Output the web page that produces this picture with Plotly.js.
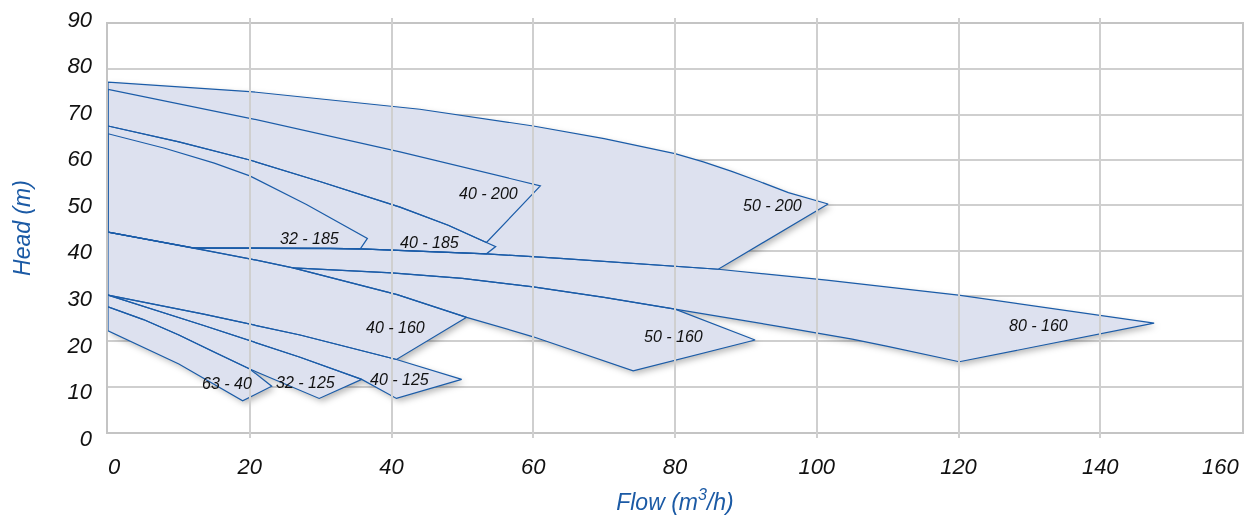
<!DOCTYPE html>
<html><head><meta charset="utf-8">
<script src="https://cdn.plot.ly/plotly-3.0.1.min.js"></script>
<style>html,body{margin:0;padding:0;background:#fff}#chart{width:1248px;height:516px}</style>
</head><body><div id="chart"></div>
<script>
// ---- data (flow m3/h, head m) : each pump's operating field outline ----
const models = ['50 - 200','40 - 200','40 - 185','32 - 185','80 - 160','50 - 160','40 - 160','40 - 125','32 - 125','63 - 40'];

const flow_50_200 = [0,20,44,60,70,76,80,84,88,92,96,101.6,86.1,63.8,53.4,35.6,31.3,12,0,0];
const head_50_200 = [77.2,75.1,71.2,67.5,64.7,62.8,61.4,59.6,57.5,55.2,52.8,50.3,35.9,38.3,39.3,40.4,40.5,40.6,44.1,77.2];

const flow_40_200 = [0,20,41.2,61.0,53.4,48,41.2,30,20,10,0,0];
const head_40_200 = [75.6,69.2,61.8,54.3,41.8,45.6,49.6,55.2,60,64.0,67.5,75.6];

const flow_40_185 = [0,10,20,30,41.2,48,53.4,54.7,53.4,35.6,31.3,12,0,0];
const head_40_185 = [67.5,64.0,60,55.2,49.6,45.6,41.8,40.9,39.3,40.4,40.5,40.6,44.1,67.5];

const flow_32_185 = [0,8,15,20,28,36.6,35.6,31.3,12,0,0];
const head_32_185 = [65.8,62.6,59.3,56.5,50.2,42.7,40.4,40.5,40.6,44.1,65.8];

const flow_80_160 = [12,31.3,35.6,53.4,63.8,86.1,101.4,120,147.6,120.1,115,110,105,100,95,90,80,70,60,50,40,34.1,26.1,20,12];
const head_80_160 = [40.6,40.5,40.4,39.3,38.3,35.9,33.5,30.2,24.0,15.5,17.3,18.9,20.5,21.9,23.2,24.5,27.1,29.7,32.0,33.9,35.1,35.6,36.2,38.2,40.6];

const flow_50_160 = [26.1,34.1,40,50,60,70,80,91.3,74.1,60,50.6,40.8,26.1];
const head_50_160 = [36.2,35.6,35.1,33.9,32.0,29.7,27.1,20.3,13.5,21.0,25.3,30.3,36.2];

const flow_40_160 = [0,12,20,26.1,40.8,50.6,40.7,27.1,13.5,0,0];
const head_40_160 = [44.1,40.6,38.2,36.2,30.3,25.3,16.0,21.4,26.0,30.2,44.1];

const flow_40_125 = [0,13.5,27.1,40.7,49.9,40.7,35.8,27.1,13.5,0];
const head_40_125 = [30.2,26.0,21.4,16.0,11.6,7.4,11.6,16.5,23.5,30.2];

const flow_32_125 = [0,13.5,27.1,35.8,29.8,24.3,20,15,10,5,0,0];
const head_32_125 = [30.2,23.5,16.5,11.6,7.4,11.0,13.9,17.6,21.4,24.8,27.6,30.2];

const flow_63_40 = [0,5,10,15,20,23.1,19.0,10,0,0];
const head_63_40 = [27.6,24.8,21.4,17.6,13.9,10.1,6.9,15.0,22.3,27.6];

const labelFlow = [93.8,53.7,45.4,28.4,131.3,79.8,40.6,41.1,27.9,16.8];
const labelHead = [50.0,52.7,41.8,42.6,23.5,21.0,23.1,11.5,10.9,10.7];

const xTicks = [0,20,40,60,80,100,120,140,160];
const xTickText = ['&nbsp;&nbsp;0','20','40','60','80','100','120','140',''];
const yTicks = [0,10,20,30,40,50,60,70,80,90];

// ---- build one combined outline trace (union fill) ----
const flows = [flow_50_200,flow_40_200,flow_40_185,flow_32_185,flow_80_160,flow_50_160,flow_40_160,flow_40_125,flow_32_125,flow_63_40];
const heads = [head_50_200,head_40_200,head_40_185,head_32_185,head_80_160,head_50_160,head_40_160,head_40_125,head_32_125,head_63_40];
let X = [], Y = [];
flows.forEach((f,i)=>{ if(i){X.push(null);Y.push(null);} X = X.concat(f); Y = Y.concat(heads[i]); });

const blue = '#1b5ca8';
const traces = [
  {type:'scatter', mode:'lines', x:X, y:Y, fill:'toself', fillcolor:'#dde1ef',
   line:{color:blue, width:1.2}, hoverinfo:'skip', showlegend:false},
  // empty trace that carries the head-label axis
  {type:'scatter', mode:'lines', x:[], y:[], yaxis:'y2', hoverinfo:'skip', showlegend:false}
];

const fam = 'Liberation Sans, Arial, sans-serif';
const annotations = models.map((m,i)=>({
  x:labelFlow[i], y:labelHead[i], xref:'x', yref:'y', text:m, showarrow:false,
  font:{family:fam, size:16, color:'#111', style:'italic'}
}));
// last flow tick label, kept inside the picture as in the original
annotations.push({x:xTicks[xTicks.length-1], y:0, xref:'x', yref:'y', text:String(xTicks[xTicks.length-1]),
  showarrow:false, xanchor:'right', yanchor:'middle', yshift:-34, xshift:-1,
  font:{family:fam, size:22, color:'#111', style:'italic'}});

const tickFont = {family:fam, size:22, color:'#111', style:'italic'};
const titleFont = {family:fam, size:23, color:'#1b5aa5', style:'italic'};

const layout = {
  width:1248, height:516,
  margin:{l:108, r:6, t:18, b:78},
  paper_bgcolor:'#fff', plot_bgcolor:'rgba(0,0,0,0)',
  showlegend:false,
  xaxis:{range:[0,160], tickvals:xTicks, ticktext:xTickText, showgrid:true, gridcolor:'#cfcfcf', gridwidth:2,
    zeroline:false, showline:true, linecolor:'#c4c4c4', linewidth:2, mirror:true, ticks:'', ticklabelstandoff:14,
    ticklabeloverflow:'allow',
    tickfont:tickFont, title:{text:'Flow (m<sup>3</sup>/h)', font:titleFont, standoff:15}, automargin:false, fixedrange:true},
  yaxis:{domain:[6/420, 414/420], range:[0,90], tickvals:yTicks, showticklabels:false, showgrid:true, gridcolor:'#cfcfcf', gridwidth:2,
    zeroline:false, showline:true, linecolor:'#c4c4c4', linewidth:2, mirror:true, ticks:'', automargin:false, fixedrange:true},
  yaxis2:{domain:[0,1], range:[0,90.2], anchor:'free', position:0, side:'left', overlaying:false,
    tickvals:yTicks, ticktext:yTicks.map(String), showgrid:false, zeroline:false, showline:false, ticks:'',
    ticklabelstandoff:16, ticklabeloverflow:'allow', tickfont:tickFont,
    title:{text:'Head (m)', font:titleFont, standoff:28}, automargin:false, fixedrange:true},
  annotations:annotations
};

Plotly.newPlot('chart', traces, layout, {displayModeBar:false, staticPlot:true}).then(()=>{
  // let the fill multiply over the grid (grid shows through) and cast a soft shadow
  document.querySelectorAll('.cartesianlayer .plot').forEach(g=>g.removeAttribute('clip-path'));
  document.querySelectorAll('.scatterlayer path.js-fill').forEach(p=>{
    p.style.mixBlendMode = 'multiply';
    p.style.filter = 'drop-shadow(3px 3px 3px rgba(0,0,0,0.28))';
  });
});
</script></body></html>
